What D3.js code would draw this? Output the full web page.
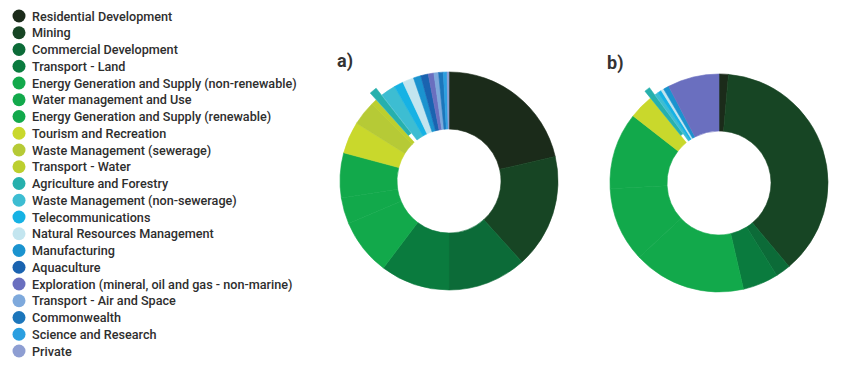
<!DOCTYPE html>
<html>
<head>
<meta charset="utf-8">
<script src="https://cdn.jsdelivr.net/npm/d3@7"></script>
<style>
  body { margin: 0; background: #fff; }
  svg { display: block; font-family: Roboto, "Noto Sans", sans-serif; }
</style>
</head>
<body>
<svg id="chart" width="857" height="371"></svg>
<script>
// categories, in legend / slice order
const categories = [
  "Residential Development",
  "Mining",
  "Commercial Development",
  "Transport - Land",
  "Energy Generation and Supply (non-renewable)",
  "Water management and Use",
  "Energy Generation and Supply (renewable)",
  "Tourism and Recreation",
  "Waste Management (sewerage)",
  "Transport - Water",
  "Agriculture and Forestry",
  "Waste Management (non-sewerage)",
  "Telecommunications",
  "Natural Resources Management",
  "Manufacturing",
  "Aquaculture",
  "Exploration (mineral, oil and gas - non-marine)",
  "Transport - Air and Space",
  "Commonwealth",
  "Science and Research",
  "Private"
];

const valuesA = [77, 61, 42, 37, 30, 14, 24, 17, 13, 3, 4, 8, 5, 6, 4, 4, 3, 2.5, 2.5, 2, 1];
const valuesB = [5, 135, 8, 19, 60, 40, 41, 13, 0, 0, 3, 2, 2, 1.5, 3, 0, 27.5, 0, 0, 0, 0];

const palette = [
  "#1b2b1a", "#174524", "#0c6b38", "#0a7b3e", "#12a94b", "#12a94b", "#12a94b",
  "#c9d82c", "#b6ca36", "#bccf2e", "#26b0ad", "#3dbdd2", "#16b2e4", "#c3e5ef",
  "#1b93cf", "#1a63b0", "#6a6fbf", "#7ea9dc", "#1c76bb", "#2b9fe0", "#8e9ed2"
];

const exploded = "Agriculture and Forestry";

const svg = d3.select("#chart");
const color = d3.scaleOrdinal().domain(categories).range(palette);

// --- legend ---
const legend = svg.append("g").attr("class", "legend");
const rowY = d3.scalePoint().domain(categories).range([16, 351]);

const item = legend.selectAll("g")
  .data(categories)
  .join("g")
  .attr("transform", d => `translate(0,${rowY(d)})`);

item.append("circle")
  .attr("cx", 19)
  .attr("r", 6.5)
  .attr("fill", d => color(d));

const labels = item.append("text")
  .attr("x", 0)
  .attr("dy", "0.35em")
  .attr("fill", "#2e2e2e")
  .style("font-size", "13.5px")
  .style("font-weight", 500)
  .text(d => d);

// squeeze the text a little, the original is set in a condensed face
const longest = d3.max(labels.nodes(), n => n.getComputedTextLength());
const squeeze = Math.min(1, 265 / longest);
labels.attr("transform", `translate(32,0) scale(${squeeze},1)`);

// --- donuts ---
function donut(values, cx, cy, title) {
  const rows = categories.map((c, i) => ({ name: c, value: values[i] }));
  const pie = d3.pie().sort(null).value(d => d.value);
  const arc = d3.arc().innerRadius(52).outerRadius(109);

  const g = svg.append("g").attr("transform", `translate(${cx},${cy})`);

  g.selectAll("path")
    .data(pie(rows).filter(d => d.data.value > 0))
    .join("path")
    .attr("d", arc)
    .attr("fill", d => color(d.data.name))
    .attr("stroke", d => color(d.data.name))
    .attr("stroke-width", 0.6)
    .attr("transform", d => {
      if (d.data.name !== exploded) return null;
      const [x, y] = arc.centroid(d);
      const k = 9 / Math.hypot(x, y);
      return `translate(${x * k},${y * k})`;
    });

  svg.append("text")
    .attr("x", cx - 112)
    .attr("y", cy - 114)
    .attr("fill", "#333")
    .style("font-size", "18px")
    .style("font-weight", "bold")
    .text(title);
}

donut(valuesA, 449, 181, "a)");
donut(valuesB, 719, 183, "b)");
</script>
</body>
</html>
